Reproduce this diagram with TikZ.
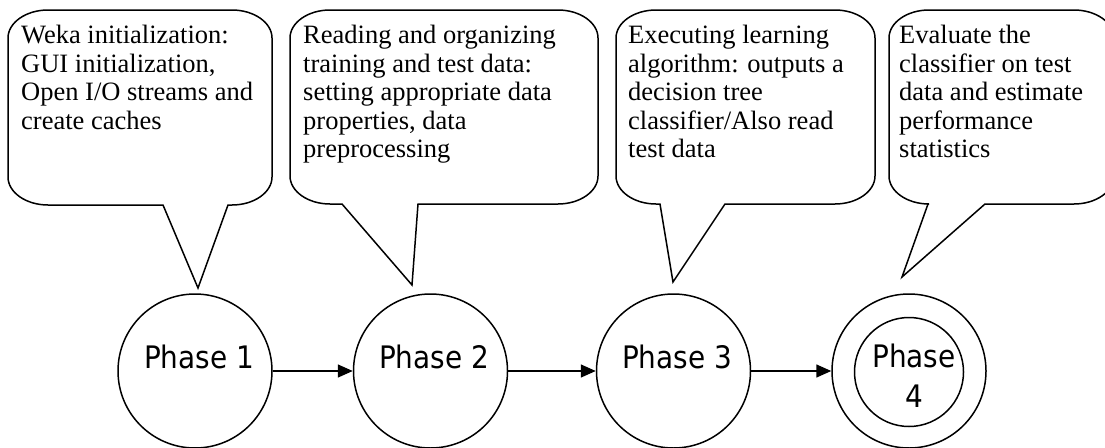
\documentclass[tikz,border=0pt]{standalone}
\usepackage{fontspec}
\setmainfont{Liberation Serif}
\newfontfamily\phasefont{DejaVu Sans Condensed}
\usetikzlibrary{arrows.meta}
\tikzset{
  callout/.style={draw=black,line width=1.5pt,line join=miter,fill=white},
  phase/.style={draw=black,circle,line width=1.5pt,minimum size=154pt,inner sep=0pt},
  inner/.style={draw=black,circle,line width=1.5pt,minimum size=109pt,inner sep=0pt},
  desc/.style={anchor=north west,inner sep=0pt,align=left,font=\fontsize{26.5pt}{28.5pt}\selectfont},
  plabel/.style={anchor=base,inner sep=0pt,align=center,font=\phasefont\fontsize{31pt}{40pt}\selectfont},
  flow/.style={line width=1.5pt,-{Triangle[length=15pt,width=13pt]}}
}
\newcommand\mycallout[8]{%
  \draw[callout] ({#1+40},#3) -- ({#2-40},#3)
    .. controls ({#2-18},#3) and (#2,{#3+12.6}) .. (#2,{#3+28})
    -- (#2,{#4-28})
    .. controls (#2,{#4-12.6}) and ({#2-18},#4) .. ({#2-40},#4)
    -- (#6,#4) -- (#7,#8) -- (#5,#4) -- ({#1+40},#4)
    .. controls ({#1+18},#4) and (#1,{#4-12.6}) .. (#1,{#4-28})
    -- (#1,{#3+28})
    .. controls (#1,{#3+12.6}) and ({#1+18},#3) .. ({#1+40},#3) -- cycle;}
\begin{document}
\begin{tikzpicture}[x=1pt,y=-1pt]
\useasboundingbox[fill=white] (0,0) rectangle (1105,447);
% callouts
\mycallout{8}{272}{10}{205}{163}{228}{198}{288}
\mycallout{290}{598}{10}{204}{342}{418}{412}{285}
\mycallout{616}{875}{10}{204}{660}{725}{673}{282}
\mycallout{889}{1114}{10}{204}{928}{985}{902}{277}
\node[desc] (t1) at (21,25) {Weka initialization:\\GUI initialization,\\Open I/O streams and\\create caches};
\node[desc] (t2) at (303,25) {Reading and organizing\\training and test data:\\setting appropriate data\\properties, data\\preprocessing};
\node[desc] (t3) at (628,25) {Executing learning\\algorithm: outputs a\\decision tree\\classifier/Also read\\test data};
\node[desc] (t4) at (899,25) {Evaluate the\\classifier on test\\data and estimate\\performance\\statistics};
% phases
\node[phase] (p1) at (195,371) {};
\node[phase] (p2) at (430.5,371) {};
\node[phase] (p3) at (673.5,371) {};
\node[phase] (p4) at (909,371) {};
\node[inner] (p4i) at (909,372) {};
\node[plabel] (l1) at (199,368) {Phase 1};
\node[plabel] (l2) at (434,368) {Phase 2};
\node[plabel] (l3) at (677,368) {Phase 3};
\node[plabel] (l4) at (914,407) {Phase\\4};
\draw[flow] (p1) -- (p2);
\draw[flow] (p2) -- (p3);
\draw[flow] (p3) -- (p4);
\end{tikzpicture}
\end{document}
